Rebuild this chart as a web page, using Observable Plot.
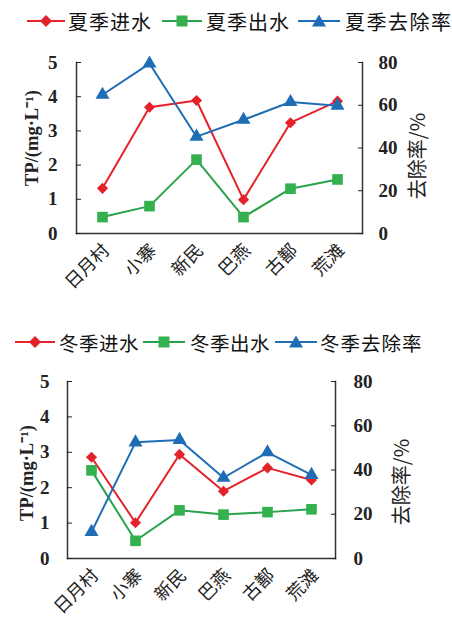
<!DOCTYPE html>
<html><head><meta charset="utf-8">
<script src="https://cdn.jsdelivr.net/npm/d3@7"></script>
<script src="https://cdn.jsdelivr.net/npm/@observablehq/plot@0.6"></script>
<style>
body{margin:0;background:#fff;}
#wrap{position:relative;width:452px;height:631px;overflow:hidden;background:#fff;}
.lg{position:absolute;display:flex;align-items:center;font-family:"Noto Sans CJK SC","Noto Sans",sans-serif;color:#111;white-space:nowrap;}
.chart{position:absolute;left:0;}
</style>
</head><body><div id="wrap"></div>
<script>
const sites = ["日月村","小寨","新民","巴燕","古鄯","荒滩"];
const summerSeries = ["夏季进水","夏季出水","夏季去除率"];
const winterSeries = ["冬季进水","冬季出水","冬季去除率"];
const summerIn = [1.32,3.69,3.89,0.99,3.24,3.87];
const summerOut = [0.48,0.80,2.16,0.48,1.31,1.58];
const summerRemoval = [64.9,79.5,45.3,53.2,61.5,59.8];
const winterIn = [2.86,1.01,2.94,1.90,2.56,2.22];
const winterOut = [2.49,0.50,1.36,1.24,1.31,1.39];
const winterRemoval = [12.0,52.5,53.6,36.5,48.0,37.8];
const leftTicks = [0,1,2,3,4,5];
const rightTicks = [0,20,40,60,80];
const leftTitle = "TP/(mg·L⁻¹)";
const rightTitle = "去除率/%";

const RED="#e4222a", GREEN="#29a34b", GREENF="#34b14e", BLUE="#1e6db5";
const colors=[RED,GREEN,BLUE], fills=[RED,GREENF,BLUE], syms=["diamond2","square","triangle"];
const rScale = 5/80;
const wrap = document.getElementById("wrap");

function legend(names, top, layout, fs){
  names.forEach((n,i)=>{
    const d=document.createElement("div");
    d.className="lg";
    d.style.left=layout[i][0]+"px"; d.style.top=(top-14)+"px"; d.style.height="28px";
    const w=layout[i][1];
    let mk;
    if(i===0) mk=`<polygon points="${w/2},2 ${w/2+6},8 ${w/2},14 ${w/2-6},8" fill="${fills[i]}"/>`;
    else if(i===1) mk=`<rect x="${w/2-5.5}" y="2.5" width="11" height="11" fill="${fills[i]}"/>`;
    else mk=`<polygon points="${w/2},1.5 ${w/2+7},13.5 ${w/2-7},13.5" fill="${fills[i]}"/>`;
    d.innerHTML=`<svg width="${w}" height="16" style="display:block"><line x1="0" x2="${w}" y1="8" y2="8" stroke="${colors[i]}" stroke-width="2"/>${mk}</svg><span style="margin-left:${layout[i][2]}px;font-size:${fs}px;letter-spacing:${layout[i][3]}px">${n}</span>`;
    wrap.appendChild(d);
  });
}

function chart(o){
  const rows = sites.map((s,i)=>({site:s, a:o.inV[i], b:o.outV[i], c:o.rem[i]*rScale}));
  const keys=["a","b","c"];
  const numFont = {fontFamily:"'Liberation Serif','Times New Roman',serif", fontWeight:"bold", fontSize:19};
  const marks = [
    Plot.frame({anchor:"left", stroke:"#333", strokeWidth:1.5}),
    Plot.frame({anchor:"right", stroke:"#333", strokeWidth:1.5}),
    Plot.frame({anchor:"bottom", stroke:"#333", strokeWidth:1.5}),
    Plot.axisY(leftTicks, {anchor:"left", tickSize:-5, tickPadding:o.lp, label:null, ...numFont}),
    Plot.axisY(rightTicks.map(d=>d*rScale), {anchor:"right", tickSize:-5, tickPadding:o.rp, label:null, tickFormat:d=>Math.round(d/rScale), ...numFont}),
    Plot.axisX({anchor:"bottom", tickSize:0, tickRotate:-45, label:null, tickPadding:o.xp, dx:o.xdx, fontSize:18, fontFamily:"'Noto Sans CJK SC',sans-serif"}),
    Plot.text([leftTitle], {frameAnchor:"left", textAnchor:"middle", rotate:-90, dx:o.ltdx, dy:o.ltdy, fontSize:18.5, fontWeight:"bold", fontFamily:"'Liberation Serif','Times New Roman',serif", fill:"#222"}),
    Plot.text([rightTitle], {frameAnchor:"right", textAnchor:"middle", rotate:-90, dx:o.rtdx, dy:o.rtdy, fontSize:20, fontFamily:"'Noto Sans CJK SC',sans-serif", fill:"#222"})
  ];
  keys.forEach((k,i)=>{
    marks.push(Plot.line(rows,{x:"site", y:k, stroke:colors[i], strokeWidth:2}));
    marks.push(Plot.dot(rows,{x:"site", y:k, symbol:syms[i], fill:fills[i], stroke:null, r:[5,6,5.2][i]}));
  });
  const svg = Plot.plot({
    width:452, height:o.h, marginTop:o.mt, marginBottom:o.mb, marginLeft:o.ml, marginRight:o.mr,
    x:{type:"point", domain:sites, padding:0.5},
    y:{domain:[0,5]},
    style:{color:"#222", background:"transparent"},
    marks
  });
  svg.classList.add("chart");
  svg.style.top=o.top+"px";
  wrap.appendChild(svg);
}

legend(summerSeries, 21, [[27,38,3,1],[162,40,4,1],[298,42,5,1.5]], 20);
chart({inV:summerIn,outV:summerOut,rem:summerRemoval, top:40, h:265, mt:22, mb:72, ml:76, mr:90, lp:24, rp:21, xp:14, xdx:4, ltdx:-44, ltdy:-10, rtdx:56, rtdy:8});
legend(winterSeries, 342, [[15,40,4,0.5],[143,42,5,0.5],[275,42,3,1]], 19.5);
chart({inV:winterIn,outV:winterOut,rem:winterRemoval, top:360, h:271, mt:21, mb:73, ml:67, mr:117, lp:23, rp:23, xp:14, xdx:4, ltdx:-40, ltdy:3, rtdx:67, rtdy:12});
</script></body></html>
